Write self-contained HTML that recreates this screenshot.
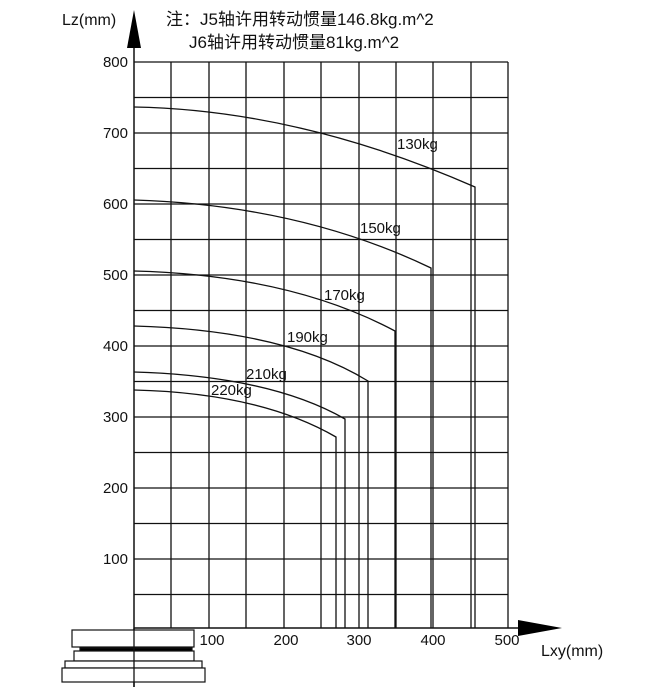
<!DOCTYPE html>
<html><head><meta charset="utf-8"><style>
html,body{margin:0;padding:0;background:#fff;width:666px;height:687px;overflow:hidden}
svg{display:block}
text{font-family:"Liberation Sans","Noto Sans CJK SC",sans-serif;fill:#111}
</style></head><body>
<svg width="666" height="687" viewBox="0 0 666 687" xmlns="http://www.w3.org/2000/svg">
<g stroke="#111" stroke-width="1.3" fill="none">
<line x1="171" y1="62" x2="171" y2="628"/>
<line x1="209" y1="62" x2="209" y2="628"/>
<line x1="246" y1="62" x2="246" y2="628"/>
<line x1="284" y1="62" x2="284" y2="628"/>
<line x1="321" y1="62" x2="321" y2="628"/>
<line x1="359" y1="62" x2="359" y2="628"/>
<line x1="396" y1="62" x2="396" y2="628"/>
<line x1="433" y1="62" x2="433" y2="628"/>
<line x1="471" y1="62" x2="471" y2="628"/>
<line x1="508" y1="62" x2="508" y2="628"/>
<line x1="134" y1="62" x2="508" y2="62"/>
<line x1="134" y1="97.5" x2="508" y2="97.5"/>
<line x1="134" y1="133" x2="508" y2="133"/>
<line x1="134" y1="168.5" x2="508" y2="168.5"/>
<line x1="134" y1="204" x2="508" y2="204"/>
<line x1="134" y1="239.5" x2="508" y2="239.5"/>
<line x1="134" y1="275" x2="508" y2="275"/>
<line x1="134" y1="310.5" x2="508" y2="310.5"/>
<line x1="134" y1="346" x2="508" y2="346"/>
<line x1="134" y1="381.5" x2="508" y2="381.5"/>
<line x1="134" y1="417" x2="508" y2="417"/>
<line x1="134" y1="452.5" x2="508" y2="452.5"/>
<line x1="134" y1="488" x2="508" y2="488"/>
<line x1="134" y1="523.5" x2="508" y2="523.5"/>
<line x1="134" y1="559" x2="508" y2="559"/>
<line x1="134" y1="594.5" x2="508" y2="594.5"/>
<line x1="134" y1="30" x2="134" y2="687" stroke-width="1.5"/>
<line x1="134" y1="628" x2="530" y2="628" stroke-width="1.5"/>
<path d="M134,107 Q300,110 475,187 L475,628"/>
<path d="M134,200 Q300,205 431,268 L431,628"/>
<path d="M134,271 Q290,275 395,331 L395,628"/>
<path d="M134,326 Q285,330 368,381 L368,628"/>
<path d="M134,372 Q270,376 345,419 L345,628"/>
<path d="M134,390 Q260,393 336,437 L336,628"/>
</g>
<polygon points="134,10 127,48 141,48" fill="#000"/>
<polygon points="562,628 518,620 518,636" fill="#000"/>
<g stroke="#111" stroke-width="1.2" fill="#fff">
<rect x="72" y="630" width="122" height="17"/>
<rect x="80" y="648" width="112" height="3" fill="#000"/>
<rect x="74" y="651" width="120" height="10"/>
<rect x="65" y="661" width="137" height="7"/>
<rect x="62" y="668" width="143" height="14"/>
</g>
<line x1="134" y1="628" x2="134" y2="687" stroke="#111" stroke-width="1.3"/>
<g font-size="15">
<text x="128" y="67" text-anchor="end">800</text>
<text x="128" y="138" text-anchor="end">700</text>
<text x="128" y="209" text-anchor="end">600</text>
<text x="128" y="280" text-anchor="end">500</text>
<text x="128" y="351" text-anchor="end">400</text>
<text x="128" y="422" text-anchor="end">300</text>
<text x="128" y="493" text-anchor="end">200</text>
<text x="128" y="564" text-anchor="end">100</text>
<text x="212" y="645" text-anchor="middle">100</text>
<text x="286" y="645" text-anchor="middle">200</text>
<text x="359" y="645" text-anchor="middle">300</text>
<text x="433" y="645" text-anchor="middle">400</text>
<text x="507" y="645" text-anchor="middle">500</text>
<text x="397" y="149">130kg</text>
<text x="360" y="233">150kg</text>
<text x="324" y="300">170kg</text>
<text x="287" y="342">190kg</text>
<text x="246" y="379">210kg</text>
<text x="211" y="395">220kg</text>
<text x="62" y="25" font-size="16">Lz(mm)</text>
<text x="541" y="656" font-size="16">Lxy(mm)</text>
<text x="166" y="25" font-size="17">注：J5轴许用转动惯量146.8kg.m^2</text>
<text x="189" y="48" font-size="17">J6轴许用转动惯量81kg.m^2</text>
</g>
</svg>
</body></html>
